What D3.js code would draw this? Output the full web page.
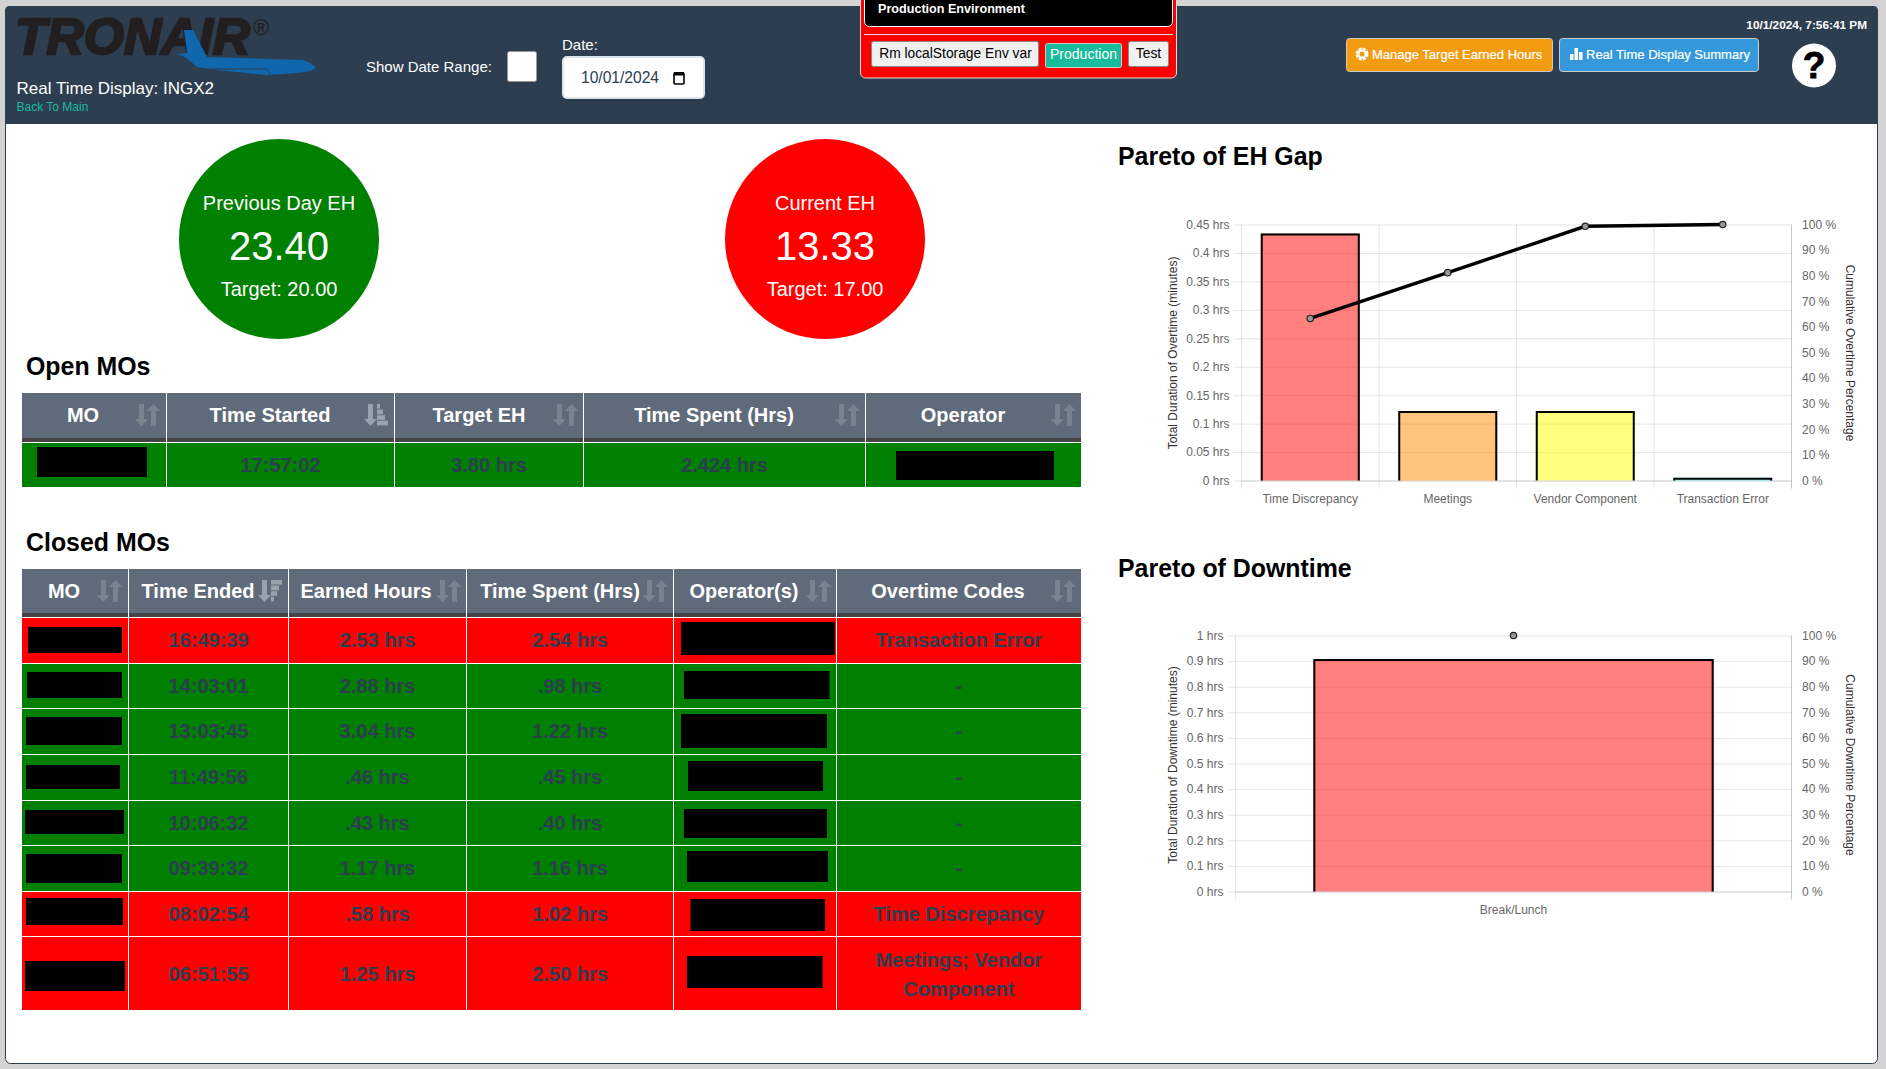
<!DOCTYPE html>
<html>
<head>
<meta charset="utf-8">
<title>Real Time Display: INGX2</title>
<script src="https://d3js.org/d3.v7.min.js"></script>
<style>
  html, body { margin: 0; padding: 0; background: #d3d3d3; overflow: hidden; }
  svg { display: block; font-family: "Liberation Sans", Arial, sans-serif; }
</style>
</head>
<body>
<div id="vis"></div>

<script>
  // ---- data ----
  var ehCategories = ["Time Discrepancy", "Meetings", "Vendor Component", "Transaction Error"]
  var ehHours = [0.434, 0.122, 0.122, 0.005]
  var ehCumulative = [63.3, 81.2, 99.3, 100]
  var ehTicks = [0, 0.05, 0.1, 0.15, 0.2, 0.25, 0.3, 0.35, 0.4, 0.45]

  var dtCategories = ["Break/Lunch"]
  var dtHours = [0.908]
  var dtCumulative = [100]
  var dtTicks = [0, 0.1, 0.2, 0.3, 0.4, 0.5, 0.6, 0.7, 0.8, 0.9, 1]

  var pctTicks = [0, 10, 20, 30, 40, 50, 60, 70, 80, 90, 100]

  var openHeaders = ["MO", "Time Started", "Target EH", "Time Spent (Hrs)", "Operator"]
  var openRow = ["", "17:57:02", "3.80 hrs", "2.424 hrs", ""]

  var closedHeaders = ["MO", "Time Ended", "Earned Hours", "Time Spent (Hrs)", "Operator(s)", "Overtime Codes"]
  var closedTimes = ["16:49:39", "14:03:01", "13:03:45", "11:49:56", "10:06:32", "09:39:32", "08:02:54", "06:51:55"]
  var closedEarned = ["2.53 hrs", "2.88 hrs", "3.04 hrs", ".46 hrs", ".43 hrs", "1.17 hrs", ".58 hrs", "1.25 hrs"]
  var closedSpent = ["2.54 hrs", ".98 hrs", "1.22 hrs", ".45 hrs", ".40 hrs", "1.16 hrs", "1.02 hrs", "2.50 hrs"]
  var closedCodes = [["Transaction Error"], ["-"], ["-"], ["-"], ["-"], ["-"], ["Time Discrepancy"], ["Meetings; Vendor", "Component"]]
  var closedMet = [false, true, true, true, true, true, false, false]

  // ---- layout, separate from the data ----
  var navy = "#2c3e50", green = "#008000", red = "#ff0000", headGray = "#5f6b7a"
  var barColors = ["rgba(255,0,0,0.5)", "rgba(255,140,0,0.5)", "rgba(255,255,0,0.5)", "rgba(0,255,255,0.5)"]

  var svg = d3.select("#vis").append("svg").attr("width", 1886).attr("height", 1069)

  // text helper, y is the vertical centre of the text
  function label(g, x, y, str, size, opts) {
    opts = opts || {}
    return g.append("text")
      .attr("x", x).attr("y", y).attr("dy", "0.35em")
      .attr("font-size", size)
      .attr("font-weight", opts.weight || "normal")
      .attr("text-anchor", opts.anchor || "start")
      .attr("fill", opts.fill || "#000")
      .text(str)
  }

  // page panel + header bar
  svg.append("rect").attr("x", 5.5).attr("y", 6.5).attr("width", 1872).attr("height", 1057).attr("rx", 5)
    .attr("fill", "#fff").attr("stroke", navy)
  svg.append("path").attr("fill", navy)
    .attr("d", "M5,124 V11 Q5,6 10,6 H1873 Q1878,6 1878,11 V124 Z")

  // logo
  var logo = svg.append("g")
  logo.append("text").attr("x", 15).attr("y", 54)
    .attr("font-size", 50).attr("font-weight", "bold").attr("font-style", "italic")
    .attr("textLength", 235).attr("lengthAdjust", "spacingAndGlyphs")
    .attr("fill", "#231f20").attr("stroke", "#231f20").attr("stroke-width", 2.4)
    .text("TRONAIR")
  logo.append("text").attr("x", 253).attr("y", 35).attr("font-size", 22).attr("font-weight", "bold").attr("fill", "#231f20").text("®")
  logo.append("path").attr("fill", "#0f67ad")
    .attr("d", "M184,30 L193,30 L207,57 L303,60 Q312,63 316,68 Q310,72 297,73 L267,75 L217,70 L197,67 L185,57 L177,54 L187,53 Z")
  logo.append("path").attr("fill", "none").attr("stroke", navy).attr("stroke-width", 1)
    .attr("d", "M210,69 L267,69 L270,74")

  label(svg, 16.5, 88, "Real Time Display: INGX2", 17, { fill: "#fff" })
  label(svg, 16.5, 107, "Back To Main", 12, { fill: "#18bc9c" })

  // date controls
  label(svg, 366, 67, "Show Date Range:", 15, { fill: "#fff" })
  svg.append("rect").attr("x", 507.5).attr("y", 51.5).attr("width", 29).attr("height", 30).attr("rx", 2)
    .attr("fill", "#fff").attr("stroke", "#999")
  label(svg, 562, 45, "Date:", 15, { fill: "#fff" })
  svg.append("rect").attr("x", 563).attr("y", 57).attr("width", 141).attr("height", 41).attr("rx", 4)
    .attr("fill", "#fff").attr("stroke", "#dce4ec").attr("stroke-width", 2)
  label(svg, 581, 78, "10/01/2024", 15.6, { fill: navy })
  var cal = svg.append("g").attr("transform", "translate(679,78)")
  cal.append("rect").attr("x", -5).attr("y", -5).attr("width", 10).attr("height", 11).attr("rx", 1)
    .attr("fill", "none").attr("stroke", "#000").attr("stroke-width", 1.6)
  cal.append("rect").attr("x", -5).attr("y", -6).attr("width", 10).attr("height", 3.5).attr("fill", "#000")

  // environment popup
  var env = svg.append("g")
  env.append("rect").attr("x", 860.5).attr("y", -10).attr("width", 316).attr("height", 88).attr("rx", 5)
    .attr("fill", red).attr("stroke", "#ddd")
  env.append("rect").attr("x", 864.5).attr("y", -10).attr("width", 308).attr("height", 36.5).attr("rx", 5)
    .attr("fill", "#000").attr("stroke", "#fff")
  label(env, 878, 9, "Production Environment", 12.6, { fill: "#fff", weight: "bold" })
  env.append("line").attr("x1", 864).attr("x2", 1173).attr("y1", 34.5).attr("y2", 34.5).attr("stroke", "#ddd")
  env.append("rect").attr("x", 871.5).attr("y", 41.5).attr("width", 167).attr("height", 25).attr("rx", 2)
    .attr("fill", "#f0f0f0").attr("stroke", "#888")
  label(env, 955.5, 53.5, "Rm localStorage Env var", 13.8, { anchor: "middle" })
  env.append("rect").attr("x", 1045.5).attr("y", 43.5).attr("width", 76).attr("height", 24).attr("rx", 2)
    .attr("fill", "#18bc9c").attr("stroke", "#ccc")
  label(env, 1083.5, 54.5, "Production", 14, { anchor: "middle", fill: "#fff" })
  env.append("rect").attr("x", 1128.5).attr("y", 41.5).attr("width", 40).attr("height", 25).attr("rx", 2)
    .attr("fill", "#f0f0f0").attr("stroke", "#888")
  label(env, 1148.5, 53.5, "Test", 13.8, { anchor: "middle" })

  // top right buttons
  label(svg, 1867, 25, "10/1/2024, 7:56:41 PM", 11.8, { fill: "#fff", anchor: "end", weight: "bold" })
  svg.append("rect").attr("x", 1346.5).attr("y", 38.5).attr("width", 206).attr("height", 33).attr("rx", 3)
    .attr("fill", "#f39c12").attr("stroke", "#ccc")
  svg.append("circle").attr("cx", 1362).attr("cy", 54).attr("r", 5.2).attr("fill", "none")
    .attr("stroke", "#fff").attr("stroke-width", 2.6).attr("stroke-dasharray", "3 1.1")
  svg.append("circle").attr("cx", 1362).attr("cy", 54).attr("r", 3.6).attr("fill", "none")
    .attr("stroke", "#fff").attr("stroke-width", 2)
  label(svg, 1372, 54, "Manage Target Earned Hours", 13, { fill: "#fff" }).attr("stroke", "#fff").attr("stroke-width", 0.2)
  svg.append("rect").attr("x", 1559.5).attr("y", 38.5).attr("width", 199).attr("height", 33).attr("rx", 3)
    .attr("fill", "#3498db").attr("stroke", "#ccc")
  var barIcon = [[1570, 6], [1574.5, 12], [1579, 8]]
  barIcon.forEach(function(b) {
    svg.append("rect").attr("x", b[0]).attr("y", 60 - b[1]).attr("width", 3.5).attr("height", b[1]).attr("fill", "#fff")
  })
  label(svg, 1586, 54, "Real Time Display Summary", 13, { fill: "#fff" }).attr("stroke", "#fff").attr("stroke-width", 0.2)
  svg.append("circle").attr("cx", 1814).attr("cy", 65.5).attr("r", 22).attr("fill", "#fff")
  label(svg, 1814, 65.5, "?", 37, { anchor: "middle", weight: "bold" }).attr("stroke", "#000").attr("stroke-width", 0.8)

  // EH circles
  function ehCircle(cx, color, title, value, target) {
    svg.append("circle").attr("cx", cx).attr("cy", 239).attr("r", 100).attr("fill", color)
    label(svg, cx, 203, title, 20, { anchor: "middle", fill: "#fff" })
    label(svg, cx, 246, value, 40, { anchor: "middle", fill: "#fff" })
    label(svg, cx, 289, target, 20, { anchor: "middle", fill: "#fff" })
  }
  ehCircle(279, green, "Previous Day EH", "23.40", "Target: 20.00")
  ehCircle(825, red, "Current EH", "13.33", "Target: 17.00")

  // section headings
  function heading(x, y, str) {
    svg.append("text").attr("x", x).attr("y", y).attr("font-size", 24.9).attr("font-weight", "bold").text(str)
  }
  heading(26, 375, "Open MOs")
  heading(26, 551, "Closed MOs")
  heading(1118, 165, "Pareto of EH Gap")
  heading(1118, 577, "Pareto of Downtime")

  // sort arrows, kind: 0 plain, 1 bars wide at top, 2 bars wide at bottom
  function sortIcon(cx, cy, kind) {
    var g = svg.append("g").attr("transform", "translate(" + cx + "," + cy + ")")
    var dim = "#78838f", bright = "#9aa3ad"
    g.append("path").attr("fill", kind ? bright : dim)
      .attr("d", "M-8,-11 h5 v15 h4 l-6.5,7 l-6.5,-7 h4 Z")
    if (kind == 0) {
      g.append("path").attr("fill", dim)
        .attr("d", "M4,11 h5 v-15 h4 l-6.5,-7 l-6.5,7 h4 Z")
    } else {
      var widths = kind == 1 ? [11, 8, 6, 3] : [3, 6, 8, 11]
      widths.forEach(function(w, i) {
        g.append("rect").attr("x", 1).attr("y", -11 + i * 5.6).attr("width", w).attr("height", 4.6).attr("fill", bright)
      })
    }
  }

  // one table: header strip, then rows of centred cells
  function drawTable(t) {
    var left = t.edges[0], right = t.edges[t.edges.length - 1]
    svg.append("rect").attr("x", left).attr("y", t.top).attr("width", right - left).attr("height", t.bandTop - t.top).attr("fill", headGray)
    svg.append("rect").attr("x", left).attr("y", t.bandTop).attr("width", right - left).attr("height", 4).attr("fill", "#444")

    t.headers.forEach(function(h, i) {
      label(svg, t.headX[i], t.headY, h, 20, { anchor: "middle", weight: "bold", fill: "#fff" })
      sortIcon(t.iconX[i], t.headY, t.iconKind[i])
    })

    t.rows.forEach(function(r, ri) {
      var y0 = t.rowEdges[ri], y1 = t.rowEdges[ri + 1]
      svg.append("rect").attr("x", left).attr("y", y0).attr("width", right - left).attr("height", y1 - y0 - 1)
        .attr("fill", r.met ? green : red)
      r.cells.forEach(function(c, ci) {
        var cx = (t.edges[ci] + t.edges[ci + 1]) / 2
        c.forEach(function(line, li) {
          label(svg, cx, r.y + (li - (c.length - 1) / 2) * 29, line, 20, { anchor: "middle", fill: navy, weight: "bold" })
        })
      })
    })

    t.edges.slice(1, -1).forEach(function(x) {
      svg.append("line").attr("x1", x).attr("x2", x).attr("y1", t.top).attr("y2", t.rowEdges[t.rows.length] - 1)
        .attr("stroke", "#fff").attr("stroke-width", 1)
    })

    // black boxes over the names
    t.boxes.forEach(function(b) {
      svg.append("rect").attr("x", b[0]).attr("y", b[1]).attr("width", b[2] - b[0]).attr("height", b[3] - b[1]).attr("fill", "#000")
    })
  }

  drawTable({
    headers: openHeaders,
    edges: [22, 166.5, 394.5, 583.5, 865.5, 1081],
    top: 393, bandTop: 438, headY: 415,
    headX: [83, 270, 479, 714, 963],
    iconX: [147, 376, 565, 847, 1063],
    iconKind: [0, 2, 0, 0, 0],
    rowEdges: [443, 488],
    rows: [{ met: true, y: 465, cells: openRow.map(function(c) { return [c] }) }],
    boxes: [[37, 447, 147, 477], [896, 451, 1054, 480]]
  })

  var closedRowY = [640, 686, 731, 777, 823, 868, 914, 974]
  drawTable({
    headers: closedHeaders,
    edges: [22, 128.5, 288.5, 466.5, 673.5, 836.5, 1081],
    top: 569, bandTop: 613, headY: 591,
    headX: [64, 198, 366, 560, 744, 948],
    iconX: [109, 270, 448, 655, 818, 1063],
    iconKind: [0, 1, 0, 0, 0, 0],
    rowEdges: [618, 664, 709, 755, 801, 846, 892, 937, 1011],
    rows: closedTimes.map(function(t, i) {
      return {
        met: closedMet[i],
        y: closedRowY[i],
        cells: [[""], [t], [closedEarned[i]], [closedSpent[i]], [""], closedCodes[i]]
      }
    }),
    boxes: [
      [28, 627, 122, 653], [681, 622, 835, 655],
      [27, 672, 122, 698], [684, 671, 829.5, 699],
      [26, 717, 122, 745], [681, 714, 827, 748],
      [26, 765, 120, 789], [688, 761, 823, 791],
      [25, 810, 124, 834], [684, 809, 827, 838],
      [26, 854, 122, 883], [687, 851, 828, 882],
      [26, 898, 123, 925], [690.5, 899, 825, 931],
      [25, 961, 125, 991], [687, 956, 822.5, 988]
    ]
  })

  // pareto chart: bars on the left axis, cumulative line on the right one
  function drawPareto(c) {
    var g = svg.append("g")
    var y = d3.scaleLinear().domain([0, c.yMax]).range([c.bottom, c.top])
    var pct = d3.scaleLinear().domain([0, 100]).range([c.bottom, c.top])
    var x = d3.scaleBand().domain(c.categories).range([c.left, c.right])
    var gridColor = "rgba(0,0,0,0.1)", edgeColor = "rgba(0,0,0,0.22)"

    // horizontal grid + tick stubs + labels
    var yAxis = g.append("g").attr("transform", "translate(" + c.left + ",0)")
      .call(d3.axisLeft(y).tickValues(c.ticks).tickSizeInner(8).tickSizeOuter(0).tickPadding(4)
        .tickFormat(function(d) { return d + " hrs" }))
    yAxis.select(".domain").remove()
    yAxis.selectAll("line").attr("stroke", gridColor)
    yAxis.selectAll("text").attr("fill", "#666").attr("font-size", 12).attr("font-family", "Liberation Sans")
    g.append("g").attr("transform", "translate(" + c.left + ",0)")
      .call(d3.axisLeft(y).tickValues(c.ticks).tickSize(-(c.right - c.left)).tickFormat(""))
      .call(function(a) { a.select(".domain").remove() })
      .selectAll("line").attr("stroke", function(d) { return d == 0 ? edgeColor : gridColor })

    // vertical grid on the category edges
    var edges = c.categories.map(function(d) { return x(d) }).concat([c.right])
    g.selectAll("line.vgrid").data(edges).enter().append("line")
      .attr("class", "vgrid")
      .attr("x1", function(d) { return d }).attr("x2", function(d) { return d })
      .attr("y1", c.top).attr("y2", c.bottom + 8)
      .attr("stroke", function(d) { return d == c.right ? edgeColor : gridColor })

    var xAxis = g.append("g").attr("transform", "translate(0," + c.bottom + ")")
      .call(d3.axisBottom(x).tickSize(0).tickPadding(14))
    xAxis.select(".domain").remove()
    xAxis.selectAll("text").attr("fill", "#666").attr("font-size", 12).attr("font-family", "Liberation Sans")

    var rAxis = g.append("g").attr("transform", "translate(" + c.right + ",0)")
      .call(d3.axisRight(pct).tickValues(pctTicks).tickSize(0).tickPadding(10.6)
        .tickFormat(function(d) { return d + " %" }))
    rAxis.select(".domain").remove()
    rAxis.selectAll("text").attr("fill", "#666").attr("font-size", 12).attr("font-family", "Liberation Sans")

    // bars, 72% of the band, black border on three sides only
    var barW = x.bandwidth() * 0.72
    c.categories.forEach(function(cat, i) {
      var bx = x(cat) + (x.bandwidth() - barW) / 2
      var by = y(c.hours[i])
      g.append("rect").attr("x", bx).attr("y", by).attr("width", barW).attr("height", c.bottom - by).attr("fill", barColors[i])
      g.append("path").attr("fill", "none").attr("stroke", "#000").attr("stroke-width", 2)
        .attr("d", "M" + (bx + 1) + "," + c.bottom + " V" + (by + 1) + " H" + (bx + barW - 1) + " V" + c.bottom)
    })

    var center = function(i) { return x(c.categories[i]) + x.bandwidth() / 2 }
    var line = d3.line().x(function(d, i) { return center(i) }).y(function(d) { return pct(d) })
    g.append("path").datum(c.cumulative).attr("d", line).attr("fill", "none").attr("stroke", "#000").attr("stroke-width", 3.4)
    g.selectAll("circle.pt").data(c.cumulative).enter().append("circle")
      .attr("class", "pt")
      .attr("cx", function(d, i) { return center(i) })
      .attr("cy", function(d) { return pct(d) })
      .attr("r", 3.2)
      .attr("fill", "#999").attr("stroke", "#222").attr("stroke-width", 1.2)

    // axis titles
    var mid = c.titleY
    g.append("text").attr("transform", "translate(1176.5," + mid + ") rotate(-90)")
      .attr("text-anchor", "middle").attr("font-size", 12).attr("fill", "#333").text(c.leftTitle)
    g.append("text").attr("transform", "translate(1845.5," + mid + ") rotate(90)")
      .attr("text-anchor", "middle").attr("font-size", 12).attr("fill", "#333").text(c.rightTitle)
  }

  drawPareto({
    categories: ehCategories, hours: ehHours, cumulative: ehCumulative, ticks: ehTicks, yMax: 0.45,
    left: 1241.5, right: 1791.5, top: 224.5, bottom: 480.5, titleY: 353,
    leftTitle: "Total Duration of Overtime (minutes)", rightTitle: "Cumulative Overtime Percentage"
  })
  drawPareto({
    categories: dtCategories, hours: dtHours, cumulative: dtCumulative, ticks: dtTicks, yMax: 1,
    left: 1235.5, right: 1791.5, top: 635.5, bottom: 891.5, titleY: 765,
    leftTitle: "Total Duration of Downtime (minutes)", rightTitle: "Cumulative Downtime Percentage"
  })
</script>
</body>
</html>
